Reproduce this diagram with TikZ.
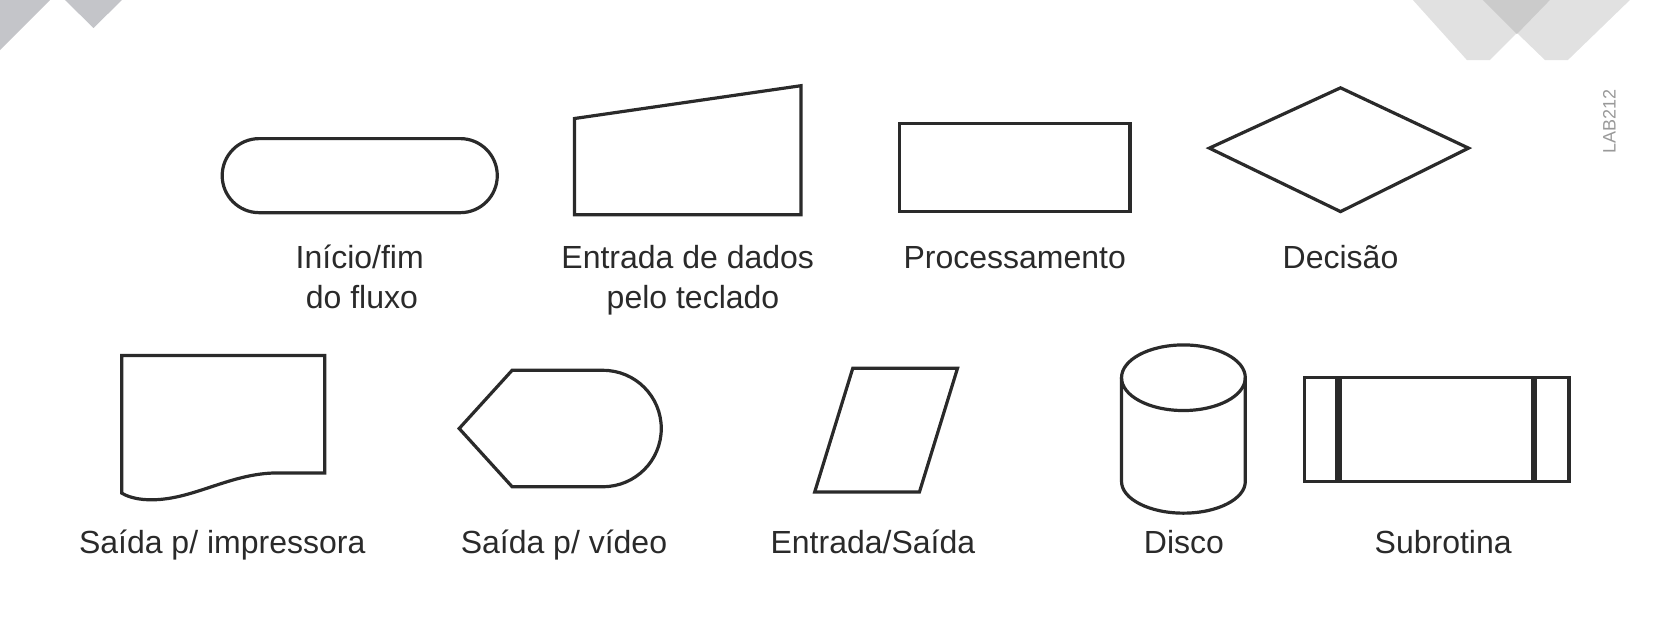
\documentclass[tikz,border=0pt]{standalone}
\usepackage{fontspec}
\setmainfont{Liberation Sans}
\usetikzlibrary{positioning}
\definecolor{inkgray}{HTML}{2A2A2A}
\definecolor{cornerdark}{HTML}{C4C5C9}
\definecolor{cornerlight}{HTML}{E1E1E1}
\definecolor{cornermid}{HTML}{CBCBCB}
\tikzset{
    symbol/.style={draw=inkgray, line width=3.2pt, line join=miter},
    bar/.style={draw=inkgray, line width=6.4pt},
    lbl/.style={font=\fontsize{32}{38}\selectfont, text=inkgray, inner sep=0pt, anchor=base},
}

\begin{document}
\begin{tikzpicture}[x=1.0581pt, y=-1.0581pt]
    \useasboundingbox (0,0) rectangle (1568,584);

    % corner decoration
    \begin{scope}[x=1pt, y=-1pt]
      \fill[cornerdark] (0,0) -- (50,0) -- (0,50) -- cycle;
      \fill[cornerdark] (65,0) -- (122,0) -- (93.5,28) -- cycle;
      \fill[cornerlight] (1413,0) -- (1467,60) -- (1490,60) -- (1550,0) -- cycle;
      \fill[cornerlight] (1483,0) -- (1545,60) -- (1568,60) -- (1630,0) -- cycle;
      \fill[cornermid] (1483,0) -- (1517,34) -- (1550,0) -- cycle;
    \end{scope}

    \node[font=\fontsize{18}{21}\selectfont, text=black!40, rotate=90, inner sep=0pt] (code) at (1521,115) {LAB212};

    % first row
    \draw[symbol, rounded corners=37pt] (210,131) rectangle (470,201);
    \draw[symbol] (543,112) -- (757,81) -- (757,203) -- (543,203) -- cycle;
    \draw[symbol] (850,117) rectangle (1068,200);
    \draw[symbol] (1143,140) -- (1267,83) -- (1388,140) -- (1267,200) -- cycle;

    \node[lbl] (inicio) at (340,254) {Início/fim};
    \node[lbl] (inicio2) at (342,292) {do fluxo};
    \node[lbl] (teclado) at (650,254) {Entrada de dados};
    \node[lbl] (teclado2) at (655,292) {pelo teclado};
    \node[lbl] (proc) at (959,254) {Processamento};
    \node[lbl] (decisao) at (1267,254) {Decisão};

    % second row
    \draw[symbol] (115,336) -- (307,336) -- (307,447) -- (262,447)
        .. controls (215,447) and (178,476) .. (135,472)
        .. controls (125,471) and (118,468) .. (115,466) -- cycle;
    \draw[symbol] (434,405) -- (484,350) -- (570,350) arc (-90:90:55) -- (484,460) -- cycle;
    \draw[symbol] (806,348) -- (905,348) -- (869,465) -- (770,465) -- cycle;
    \draw[symbol] (1118.5,357) ellipse [x radius=58.5, y radius=31];
    \draw[symbol] (1060,357) -- (1060,455) arc (180:0:58.5 and 30) -- (1177,357);
    \draw[symbol] (1233,357) rectangle (1483,455);
    \draw[bar] (1265,357) -- (1265,455);
    \draw[bar] (1450,357) -- (1450,455);

    \node[lbl] (impressora) at (210,523) {Saída p/ impressora};
    \node[lbl] (video) at (533,523) {Saída p/ vídeo};
    \node[lbl] (es) at (825,523) {Entrada/Saída};
    \node[lbl] (disco) at (1119,523) {Disco};
    \node[lbl] (sub) at (1364,523) {Subrotina};
\end{tikzpicture}
\end{document}
